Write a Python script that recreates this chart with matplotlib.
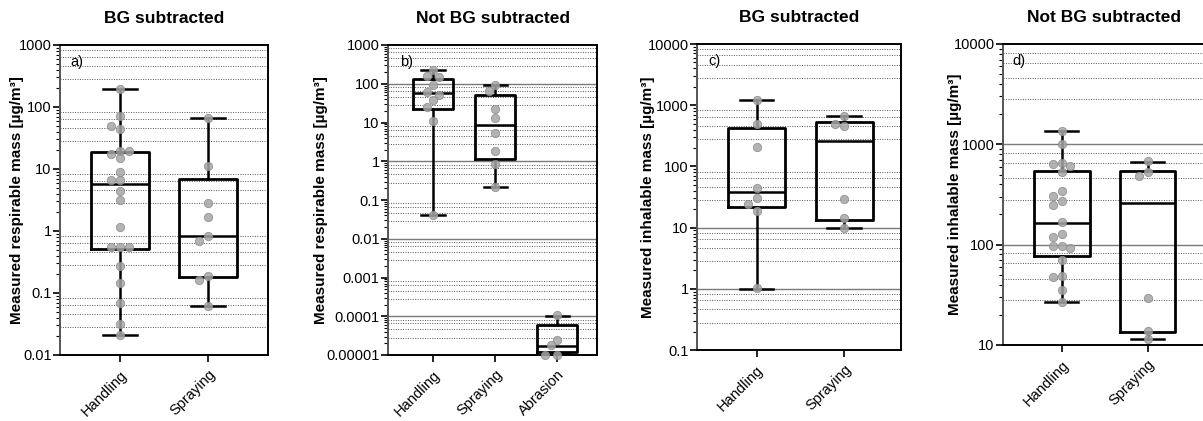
import numpy as np
import matplotlib
matplotlib.use("Agg")
import matplotlib.pyplot as plt
from matplotlib.ticker import LogLocator, FuncFormatter, NullFormatter

plt.rcParams['font.family'] = ['Liberation Sans', 'DejaVu Sans']

# ---- data (µg/m³) ----
titles = ['BG subtracted', 'Not BG subtracted', 'BG subtracted', 'Not BG subtracted']
ylabels = ['Measured respirable mass [µg/m³]', 'Measured respirable mass [µg/m³]',
           'Measured inhalable mass [µg/m³]', 'Measured inhalable mass [µg/m³]']
panel_tags = ['a)', 'b)', 'c)', 'd)']

cats_a = ['Handling', 'Spraying']
cats_b = ['Handling', 'Spraying', 'Abrasion']
cats_c = ['Handling', 'Spraying']
cats_d = ['Handling', 'Spraying']

# scatter points
a_handling = [193, 72, 45, 49, 19.8, 14.8, 17.4, 19.8, 9.1, 6.6, 6.6, 4.5, 3.16, 1.17,
              0.56, 0.56, 0.56, 0.275, 0.147, 0.07, 0.032, 0.021]
a_spraying = [65.6, 11.2, 2.87, 1.66, 0.83, 0.68, 0.188, 0.162, 0.062]
b_handling = [226, 158, 147, 93, 62.5, 51, 38, 24.5, 11.1, 0.041]
b_spraying = [93, 66.5, 21.9, 12.8, 5.25, 1.88, 0.85, 0.22]
b_abrasion = [1.08e-4, 2.5e-5, 1.8e-5, 1.0e-5, 1.0e-5]
c_handling = [1200, 498, 204, 43.6, 31, 24.4, 19, 1.02]
c_spraying = [656, 498, 461, 29, 14.3, 9.8]
d_handling = [1345, 1014, 650, 640, 611, 525, 339, 307, 273, 250, 170, 128, 120,
              98, 98, 92, 71, 49, 48, 35.4, 27]
d_spraying = [676, 525, 486, 29.2, 13.9, 11.4]

# box statistics (q1, median, q3, min, max) as drawn in the reference
a_boxes = [(0.506, 5.66, 19.0, 0.021, 193), (0.183, 0.84, 6.8, 0.062, 65.6)]
b_boxes = [(21.9, 56.6, 130, 0.041, 226), (1.12, 8.6, 51, 0.22, 93),
           (1.22e-5, 1.7e-5, 5.9e-5, 1.1e-5, 1.01e-4)]
c_boxes = [(21.5, 38, 423, 1.0, 1200), (13.4, 256, 530, 9.8, 656)]
d_boxes = [(77.3, 166, 544, 27, 1345), (13.6, 259, 544, 11.5, 665)]

ylims = [(0.01, 1000), (1e-5, 1000), (0.1, 10000), (10, 10000)]
solid_lines = [[], [100, 1, 0.01, 1e-4], [10, 1], [1000, 100]]
minor_mult = [8.2, 6.5, 4.6, 2.8]

panels = [
    (cats_a, [a_handling, a_spraying], a_boxes),
    (cats_b, [b_handling, b_spraying, b_abrasion], b_boxes),
    (cats_c, [c_handling, c_spraying], c_boxes),
    (cats_d, [d_handling, d_spraying], d_boxes),
]

# axes rectangles in pixels (left, right, top, bottom) and x limits
W, H = 1203, 421
rects = [(60, 268, 45, 355), (388, 597, 45, 355), (697, 901, 44, 350), (1003, 1205, 44, 345)]
xlims = [(-0.68, 1.68), (-0.73, 2.64), (-0.68, 1.65), (-0.685, 1.67)]
tag_x = [0.05, 0.06, 0.055, 0.045]
ylabel_x = [-0.173, -0.285, -0.208, -0.205]


def swarm_offsets(ax, x0, vals, diam_px=8.0, step=0.1):
    # simple beeswarm: place each point at the first free offset
    placed = []
    offs = []
    for v in vals:
        for k in [0, -1, 1, -2, 2, -3, 3, -4, 4]:
            xo = x0 + k * step
            px, py = ax.transData.transform((xo, v))
            if all((px - qx) ** 2 + (py - qy) ** 2 >= (diam_px * 0.95) ** 2 for qx, qy in placed):
                placed.append((px, py))
                offs.append(xo)
                break
        else:
            px, py = ax.transData.transform((x0, v))
            placed.append((px, py))
            offs.append(x0)
    return offs


def fmt(v, pos):
    dec = max(0, -int(round(np.log10(v))))
    return f'{v:.{dec}f}'


fig = plt.figure(figsize=(W / 100, H / 100), dpi=100)

for i, (cats, pts, boxes) in enumerate(panels):
    l, r, t, b = rects[i]
    ax = fig.add_axes([l / W, 1 - b / H, (r - l) / W, (b - t) / H])
    ax.set_yscale('log')
    ax.set_ylim(*ylims[i])
    ax.set_xlim(*xlims[i])

    lo, hi = ylims[i]
    for e in range(int(round(np.log10(lo))), int(round(np.log10(hi)))):
        for m in minor_mult:
            ax.axhline(m * 10 ** e, color='#555555', lw=0.7, ls=(0, (1, 1.5)), zorder=0)
    for v in solid_lines[i]:
        ax.axhline(v, color='#7a7a7a', lw=1.0, zorder=0.5)

    stats = [dict(q1=q1, med=md, q3=q3, whislo=mn, whishi=mx, fliers=[])
             for q1, md, q3, mn, mx in boxes]
    pos = np.arange(len(cats))
    ax.bxp(stats, positions=pos, widths=0.65, capwidths=0.38, showfliers=False,
           boxprops=dict(color='black', lw=2.0),
           whiskerprops=dict(color='black', lw=1.8),
           capprops=dict(color='black', lw=1.8),
           medianprops=dict(color='black', lw=1.8), manage_ticks=False)

    for x0, vals in zip(pos, pts):
        xs = swarm_offsets(ax, x0, vals)
        ax.scatter(xs, vals, s=36, color='#a6a6a6', alpha=0.85, edgecolors='#8a8a8a',
                   linewidths=0.6, zorder=4, clip_on=False)

    ax.set_xticks(pos)
    ax.set_xticklabels(cats, rotation=45, ha='right', rotation_mode='anchor', fontsize=10.5)
    ax.yaxis.set_major_locator(LogLocator(base=10, numticks=20))
    ax.yaxis.set_minor_locator(LogLocator(base=10, subs=np.arange(2, 10), numticks=20))
    ax.yaxis.set_major_formatter(FuncFormatter(fmt))
    ax.yaxis.set_minor_formatter(NullFormatter())
    ax.tick_params(axis='y', which='major', labelsize=10.5, length=5, width=1.2, pad=1)
    ax.tick_params(axis='y', which='minor', length=3, width=0.8)
    ax.tick_params(axis='x', length=5, width=1.2, pad=4)
    for s in ax.spines.values():
        s.set_linewidth(1.4)
    ax.spines['left'].set_color('#555555')
    if i == 3:
        ax.spines['right'].set_visible(False)
    ax.set_title(titles[i], fontsize=12.5, fontweight='bold', pad=16)
    ax.set_ylabel(ylabels[i], fontsize=11, fontweight='bold')
    ax.yaxis.set_label_coords(ylabel_x[i], 0.5)
    ax.text(tag_x[i], 0.945, panel_tags[i], transform=ax.transAxes, fontsize=10.5,
            ha='left', va='center')

fig.savefig('out.png', dpi=100)
